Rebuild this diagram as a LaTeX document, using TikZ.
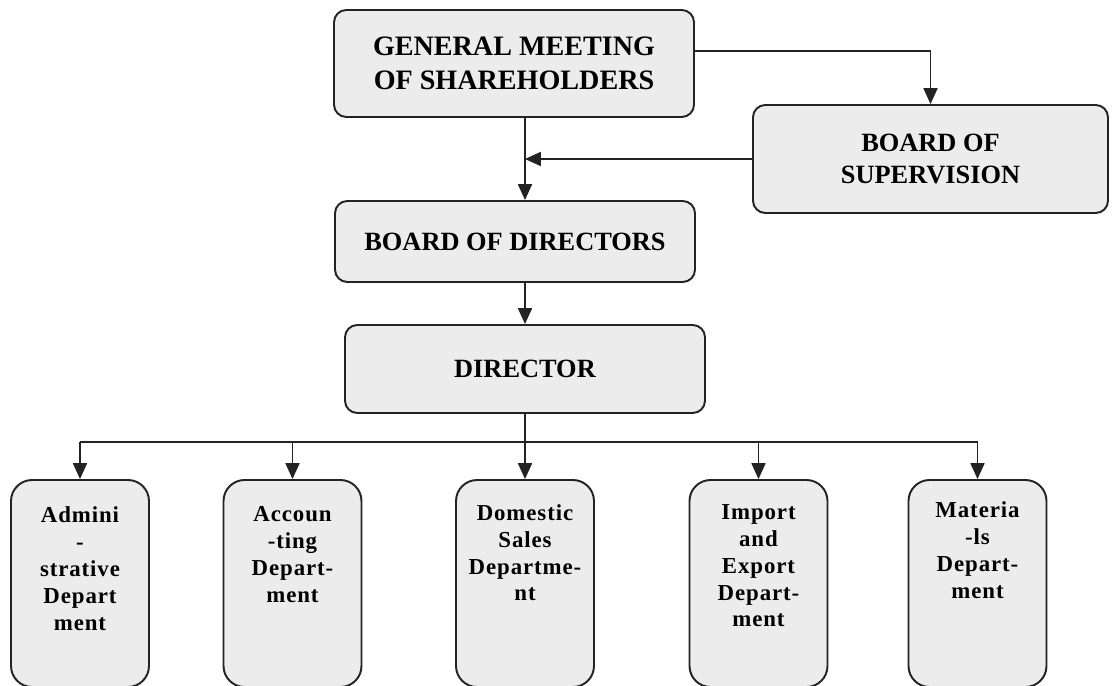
\documentclass[tikz,border=0pt]{standalone}
\usepackage{fontspec}
\setmainfont{Liberation Serif}
\usetikzlibrary{arrows.meta, positioning}
\definecolor{boxfill}{RGB}{236, 236, 236}
\definecolor{edge}{RGB}{35, 35, 35}

\begin{document}
\begin{tikzpicture}[
  box/.style={draw=edge, line width=1.1pt, fill=boxfill, rounded corners=7pt, minimum width=7.2cm, align=center, font=\fontsize{15}{18}\selectfont\bfseries},
  dept/.style={draw=edge, line width=1.1pt, fill=boxfill, rounded corners=12pt, minimum width=2.76cm, minimum height=4.14cm},
  depttext/.style={inner sep=0pt, align=center, font=\fontsize{13}{15.3}\selectfont\bfseries\addfontfeature{LetterSpace=4}},
  arrow/.style={-{Triangle[length=9pt, width=8pt]}, line width=0.8pt, draw=edge}
]
  \useasboundingbox (0,0) rectangle (22.34,-13.72);

  % Top of the chart
  \node[box, minimum height=2.14cm, font=\fontsize{16}{19}\selectfont\bfseries] (gm) at (10.28, -1.27) {GENERAL MEETING\\OF SHAREHOLDERS};
  \node[box, minimum width=7.1cm, minimum height=2.16cm] (bs) at (18.61, -3.18) {BOARD OF\\SUPERVISION};
  \node[box, minimum height=1.62cm] (bod) at (10.3, -4.83) {BOARD OF DIRECTORS};
  \node[box, minimum height=1.76cm] (dir) at (10.5, -7.38) {DIRECTOR};

  \draw[arrow] (gm.south -| dir) -- (bod.north -| dir);
  \draw[arrow] ([yshift=7pt]gm.east) -| (bs.north);
  \coordinate (jn) at (bs.west -| dir);
  \draw[arrow] (bs.west) -- (jn);
  \draw[arrow] (bod.south -| dir) -- (dir.north);

  % Departments
  \node[dept] (adm) at (1.6, -11.67) {};
  \node[dept] (acc) at (5.85, -11.67) {};
  \node[dept] (dom) at (10.5, -11.67) {};
  \node[dept] (imp) at (15.17, -11.67) {};
  \node[dept] (mat) at (19.55, -11.67) {};

  \node[depttext, below=0.55cm of adm.north] (admtxt) {Admini\\-\\strative\\Depart\\ment};
  \node[depttext, below=0.55cm of acc.north] (acctxt) {Accoun\\-ting\\Depart-\\ment};
  \node[depttext, below=0.5cm of dom.north] (domtxt) {Domestic\\Sales\\Departme-\\nt};
  \node[depttext, below=0.5cm of imp.north] (imptxt) {Import\\and\\Export\\Depart-\\ment};
  \node[depttext, below=0.45cm of mat.north] (mattxt) {Materia\\-ls\\Depart-\\ment};

  \coordinate (bus) at (10.5, -8.84);
  \draw[line width=0.8pt, edge] (dir.south) -- (bus);
  \draw[line width=0.8pt, edge] (adm.north |- bus) -- (mat.north |- bus);
  \foreach \d in {adm, acc, dom, imp, mat}
    \draw[arrow] (\d.north |- bus) -- (\d.north);
\end{tikzpicture}
\end{document}
